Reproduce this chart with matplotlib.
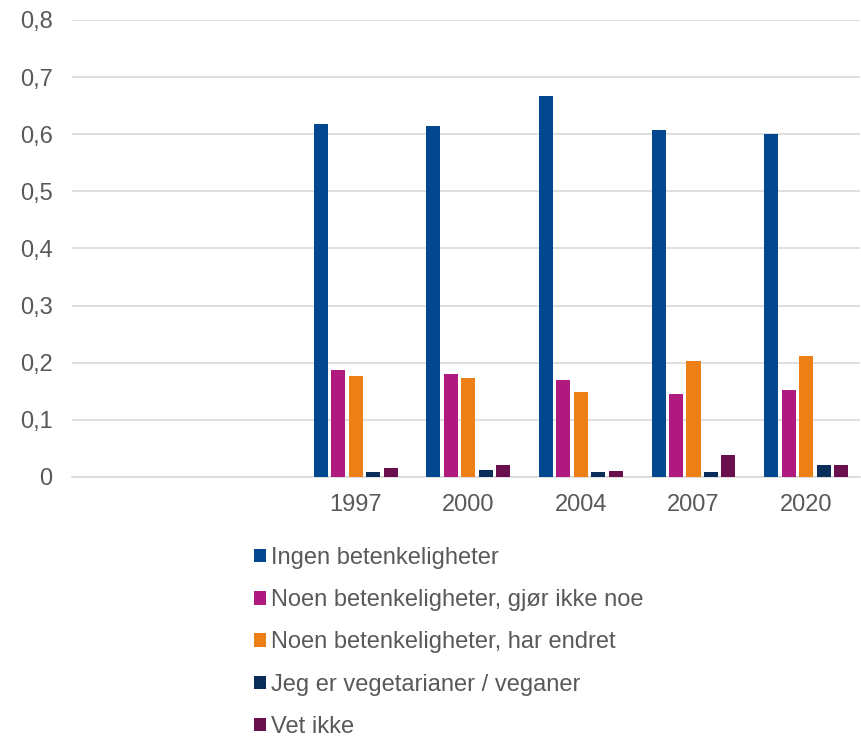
import matplotlib.pyplot as plt
import matplotlib
matplotlib.rcParams['font.family'] = ['Liberation Sans', 'DejaVu Sans']
matplotlib.rcParams['font.size'] = 17
import numpy as np

# data (two empty category slots before 1997, as in the original)
years = ['', '', '1997', '2000', '2004', '2007', '2020']
ingen = [0, 0, 0.618, 0.615, 0.667, 0.607, 0.600]
noe_ikke = [0, 0, 0.187, 0.181, 0.170, 0.146, 0.152]
endret = [0, 0, 0.176, 0.173, 0.149, 0.203, 0.211]
vegetar = [0, 0, 0.009, 0.012, 0.009, 0.009, 0.021]
vet_ikke = [0, 0, 0.016, 0.021, 0.010, 0.038, 0.021]

labels = ['Ingen betenkeligheter', 'Noen betenkeligheter, gjør ikke noe',
          'Noen betenkeligheter, har endret', 'Jeg er vegetarianer / veganer', 'Vet ikke']
colors = ['#03478F', '#B01A7E', '#EC8016', '#0A2D5A', '#6A0F4E']
series = [ingen, noe_ikke, endret, vegetar, vet_ikke]

fig = plt.figure(figsize=(8.61, 7.37), dpi=100)
ax = fig.add_axes([0.0836, 0.3528, 0.9154, 0.6201])

x = np.arange(len(years))
w = 0.125
step = 0.155
for i, (vals, lab, c) in enumerate(zip(series, labels, colors)):
    ax.bar(x + (i - 2) * step + 0.02, vals, width=w, color=c, label=lab, zorder=3)

ax.set_xlim(-0.5, len(years) - 0.5)
ax.set_ylim(0, 0.8)
ax.set_yticks(np.arange(0, 0.81, 0.1))
ax.set_yticklabels([('%.1f' % v).replace('.', ',') if v > 0 else '0' for v in np.arange(0, 0.81, 0.1)])
ax.set_xticks(x + 0.02)
ax.set_xticklabels(years)
ax.tick_params(length=0, colors='#595959', labelsize=17)
ax.tick_params(axis='y', pad=14)
ax.tick_params(axis='x', pad=12)
ax.yaxis.grid(True, color='#D9D9D9', linewidth=1.2, zorder=0)
for s in ['top', 'right', 'left']:
    ax.spines[s].set_visible(False)
ax.spines['bottom'].set_color('#D9D9D9')
ax.spines['bottom'].set_linewidth(1.2)

fig.legend(loc='upper left', bbox_to_anchor=(0.281, 0.274), frameon=False,
           handlelength=0.5, handleheight=0.5, handletextpad=0.25,
           labelspacing=0.86, borderpad=0, labelcolor='#595959', fontsize=17)

plt.savefig('out.png', dpi=100)
